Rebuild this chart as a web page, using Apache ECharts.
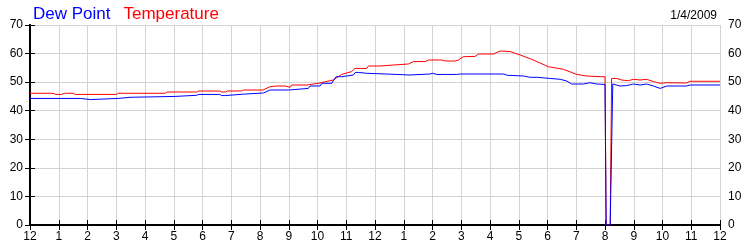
<!DOCTYPE html>
<html>
<head>
<meta charset="utf-8">
<script src="https://cdn.jsdelivr.net/npm/echarts@6/dist/echarts.min.js"></script>
<style>
html,body{margin:0;padding:0;background:#fff;}
#chart{width:750px;height:250px;}
</style>
</head>
<body>
<div id="chart"></div>
<script>
// Hour-of-day tick labels (0..24)
const hourLabels = ['12','1','2','3','4','5','6','7','8','9','10','11','12','1','2','3','4','5','6','7','8','9','10','11','12'];

// Temperature readings: hour of day, value (°F)
const tempHours = [0,0.8,0.9,1.1,1.2,1.5,1.57,3.0,3.07,4.7,4.77,5.8,5.87,6.6,6.67,6.8,6.87,7.35,7.42,8.1,8.35,8.58,8.87,8.92,9.05,9.1,9.63,9.68,10.03,10.55,10.84,11.19,11.3,11.71,11.77,12.18,12.23,12.64,12.7,13.16,13.34,13.74,13.86,14.32,14.44,14.78,14.9,15.07,15.48,15.6,16.12,16.35,16.7,17.05,17.51,18.03,18.55,19.02,19.36,19.83,20.0,20.04,20.18,20.23,20.41,20.58,20.81,20.99,21.22,21.45,21.68,21.92,22.15,22.84,22.96,24];
const tempValues = [46.1,46.1,45.7,45.7,46.1,46.1,45.7,45.7,46.1,46.1,46.55,46.55,46.9,46.9,46.55,46.55,46.9,46.9,47.25,47.25,48.4,48.65,48.65,48.2,48.2,49.0,49.0,49.6,49.6,50.75,52.7,53.7,54.8,54.8,55.65,55.65,56.0,56.0,56.35,56.35,57.2,57.2,57.75,57.75,57.4,57.4,57.75,58.9,59.0,59.85,59.85,60.9,60.7,59.5,57.75,55.4,54.5,52.7,52.15,51.9,51.9,0,0,51.3,51.3,50.75,50.5,51.0,50.75,51.0,50.2,49.6,49.8,49.7,50.3,50.3];

// Dew point readings: hour of day, value (°F)
const dewHours = [0,1.75,1.8,2.1,2.15,3.07,3.13,3.48,3.54,5.04,5.1,5.8,5.87,6.6,6.67,6.8,6.85,7.42,7.48,8.12,8.35,8.99,9.05,9.68,9.74,10.09,10.15,10.5,10.55,10.65,10.84,10.9,11.25,11.31,11.42,11.48,11.71,11.77,12.76,12.81,13.22,13.28,13.91,14.0,14.15,14.84,14.96,16.47,16.52,16.6,17.16,17.39,17.63,18.09,18.44,18.67,18.84,19.25,19.48,19.71,20.0,20.04,20.18,20.27,20.52,20.76,20.99,21.22,21.45,21.68,21.92,22.15,22.84,22.96,24];
const dewValues = [44.3,44.3,43.9,43.9,44.3,44.3,44.7,44.7,45.0,45.0,45.4,45.4,45.7,45.7,45.3,45.3,45.8,45.8,46.2,46.2,47.25,47.25,47.8,47.8,48.65,48.65,49.6,49.6,50.5,51.9,51.9,52.5,52.5,53.4,53.4,53.1,53.1,52.7,52.7,52.5,52.5,52.85,52.85,53.1,52.7,52.7,52.85,52.85,52.4,52.4,52.15,51.7,51.7,51.3,51.0,50.4,49.35,49.35,49.8,49.35,49.2,0,0,49.35,48.65,48.8,49.35,49.0,49.35,48.65,47.8,48.65,48.65,49.0,49.0];

const dateText = '1/4/2009';

const zip = (xs, ys) => xs.map((x, i) => [x, ys[i]]);
const font = 'Liberation Sans, Arial, sans-serif';

const chart = echarts.init(document.getElementById('chart'), null, {renderer: 'canvas'});
chart.setOption({
  animation: false,
  backgroundColor: '#fff',
  title: {
    text: dateText,
    right: 28, top: 5,
    textStyle: {fontFamily: font, fontSize: 12, fontWeight: 'normal', color: '#000'}
  },
  legend: {
    left: 23, top: 1,
    icon: 'none', itemWidth: 0, itemGap: 8,
    selectedMode: false,
    data: [
      {name: 'Dew Point', textStyle: {color: '#0000ff'}},
      {name: 'Temperature', textStyle: {color: '#ff0000'}}
    ],
    textStyle: {fontFamily: font, fontSize: 17, padding: 0}
  },
  grid: {left: 30, right: 30, top: 25, bottom: 25, containLabel: false},
  xAxis: [{
    type: 'value', min: 0, max: 24, interval: 1, position: 'bottom',
    axisLine: {lineStyle: {color: '#000', width: 2}},
    axisTick: {inside: true, length: 5, lineStyle: {color: '#000'}},
    axisLabel: {fontFamily: font, fontSize: 12, color: '#000', margin: 6,
      formatter: v => hourLabels[Math.round(v)]},
    splitLine: {show: true, lineStyle: {color: '#d3d3d3', width: 1}}
  }, {
    type: 'value', min: 0, max: 24, interval: 1, position: 'top',
    axisLine: {show: true, lineStyle: {color: '#000', width: 2}},
    axisTick: {show: true, inside: true, length: 5, lineStyle: {color: '#000'}},
    axisLabel: {show: false},
    splitLine: {show: false}
  }],
  yAxis: [{
    type: 'value', min: 0, max: 70, interval: 10, position: 'left',
    axisLine: {show: true, lineStyle: {color: '#000', width: 2}},
    axisTick: {show: true, inside: true, length: 5, lineStyle: {color: '#000'}},
    axisLabel: {fontFamily: font, fontSize: 12, color: '#000', margin: 7},
    splitLine: {show: true, lineStyle: {color: '#d3d3d3', width: 1}}
  }, {
    type: 'value', min: 0, max: 70, interval: 10, position: 'right',
    axisLine: {show: true, lineStyle: {color: '#000', width: 2}},
    axisTick: {show: true, inside: true, length: 5, lineStyle: {color: '#000'}},
    axisLabel: {fontFamily: font, fontSize: 12, color: '#000', margin: 8},
    splitLine: {show: false}
  }],
  series: [{
    name: 'Temperature', type: 'line', xAxisIndex: 0, yAxisIndex: 0,
    data: zip(tempHours, tempValues),
    showSymbol: false, symbol: 'none', smooth: false,
    lineStyle: {color: '#ff0000', width: 1}, itemStyle: {color: '#ff0000'}
  }, {
    name: 'Dew Point', type: 'line', xAxisIndex: 0, yAxisIndex: 0,
    data: zip(dewHours, dewValues),
    showSymbol: false, symbol: 'none', smooth: false,
    lineStyle: {color: '#0000ff', width: 1}, itemStyle: {color: '#0000ff'}
  }]
});
</script>
</body>
</html>
